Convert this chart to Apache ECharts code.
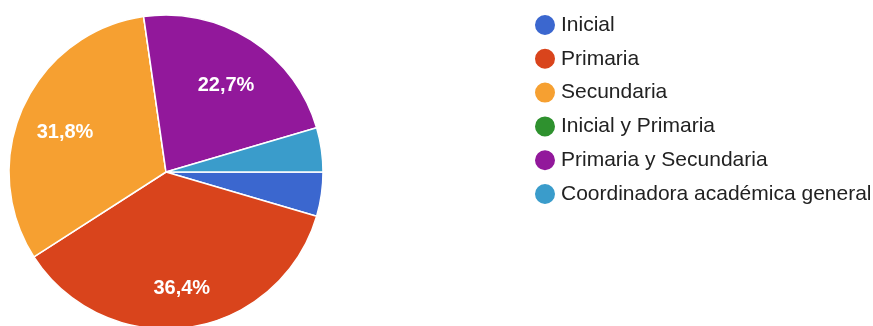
<!DOCTYPE html>
<html>
<head>
<meta charset="utf-8">
<script src="https://cdn.jsdelivr.net/npm/echarts@6/dist/echarts.min.js"></script>
<style>
html,body{margin:0;padding:0;background:#fff;}
#chart{width:873px;height:326px;}
</style>
</head>
<body>
<div id="chart"></div>
<script>
const categories = ["Inicial", "Primaria", "Secundaria", "Inicial y Primaria", "Primaria y Secundaria", "Coordinadora académica general"];
const values = [1, 8, 7, 0, 5, 1];
const colors = ["#3b67cf", "#d9441c", "#f6a031", "#2e912e", "#92189b", "#3a9ccb"];

const total = values.reduce((a, b) => a + b, 0);
const data = categories.map((name, i) => ({ name: name, value: values[i] }));
const fmt = p => {
  const pct = p.value / total * 100;
  if (pct < 5) return '';
  return pct.toFixed(1).replace('.', ',') + '%';
};

const chart = echarts.init(document.getElementById('chart'), null, { renderer: 'canvas' });
chart.setOption({
  backgroundColor: '#fff',
  animation: false,
  color: colors,
  legend: {
    orient: 'vertical',
    left: 528,
    top: 8,
    icon: 'circle',
    itemWidth: 22,
    itemHeight: 22,
    itemGap: 9.8,
    data: categories,
    textStyle: {
      fontFamily: '"Liberation Sans", Arial, sans-serif',
      fontSize: 21,
      color: '#222',
      lineHeight: 22,
      padding: [0, 0, 0, 0]
    }
  },
  series: [
    {
      type: 'pie',
      center: [166, 172],
      radius: [0, 157],
      startAngle: 0,
      clockwise: true,
      data: data,
      label: { show: false },
      labelLine: { show: false },
      itemStyle: { borderColor: '#fff', borderWidth: 1.5 },
      emphasis: { disabled: true }
    },
    {
      type: 'pie',
      center: [166, 172],
      radius: [0, 216],
      startAngle: 0,
      clockwise: true,
      silent: true,
      data: data,
      itemStyle: { color: 'rgba(0,0,0,0)', borderWidth: 0 },
      label: {
        show: true,
        position: 'inside',
        formatter: fmt,
        color: '#fff',
        offset: [0, 7],
        fontFamily: '"Liberation Sans", Arial, sans-serif',
        fontSize: 20,
        fontWeight: 'bold'
      },
      labelLine: { show: false },
      emphasis: { disabled: true }
    }
  ]
});
</script>
</body>
</html>
